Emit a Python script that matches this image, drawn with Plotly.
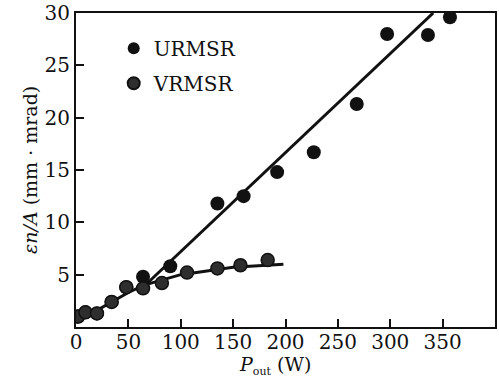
import plotly.graph_objects as go

# URMSR data
u_x = [2, 9, 20, 34, 48, 64, 90, 135, 160, 192, 227, 268, 297, 336, 357]
u_y = [1.0, 1.4, 1.3, 2.4, 3.8, 4.8, 5.8, 11.8, 12.5, 14.8, 16.7, 21.3, 28.0, 27.9, 29.6]
# VRMSR data
v_x = [2, 9, 20, 34, 48, 64, 82, 106, 135, 157, 183]
v_y = [1.0, 1.4, 1.3, 2.4, 3.8, 3.7, 4.2, 5.2, 5.6, 5.9, 6.4]
# fitted curves
u_fit_x = [64, 341]
u_fit_y = [3.8, 30.0]
v_fit_x = [0, 20, 50, 65, 100, 150, 198]
v_fit_y = [1.0, 1.6, 3.3, 4.0, 5.0, 5.7, 6.0]

x_ticks = [0, 50, 100, 150, 200, 250, 300, 350]
y_ticks = [5, 10, 15, 20, 25, 30]

FONT = "DejaVu Serif"
INK = "#111"

fig = go.Figure()
fig.add_trace(go.Scatter(x=v_fit_x, y=v_fit_y, mode="lines", line=dict(color=INK, width=3),
                         showlegend=False, hoverinfo="skip"))
fig.add_trace(go.Scatter(x=u_fit_x, y=u_fit_y, mode="lines", line=dict(color=INK, width=3),
                         showlegend=False, hoverinfo="skip"))
fig.add_trace(go.Scatter(x=u_x, y=u_y, mode="markers", name="URMSR", legendgroup="u",
                         marker=dict(symbol="circle", size=14, color=INK)))
fig.add_trace(go.Scatter(x=v_x, y=v_y, mode="markers", name="VRMSR", legendgroup="v",
                         marker=dict(symbol="circle", size=13, color="#2e2e2e",
                                     line=dict(color=INK, width=1.5))))

axis_common = dict(showline=True, linecolor=INK, linewidth=2, mirror=True,
                   ticks="inside", ticklen=8, tickwidth=2, tickcolor=INK,
                   showgrid=False, zeroline=False, automargin=False,
                   tickfont=dict(family=FONT, size=20, color=INK))

fig.update_layout(
    width=499, height=381,
    margin=dict(l=76, r=4, t=13, b=54),
    paper_bgcolor="white", plot_bgcolor="white",
    font=dict(family=FONT, color=INK),
    xaxis=dict(range=[0, 400], tickvals=x_ticks, ticktext=[str(t) for t in x_ticks],
               ticklabelstandoff=-4, **axis_common),
    yaxis=dict(range=[0, 30], tickvals=y_ticks, ticktext=[str(t) for t in y_ticks], **axis_common),
    legend=dict(x=0.09, y=0.95, xanchor="left", yanchor="top", bgcolor="rgba(0,0,0,0)",
                font=dict(family=FONT, size=20, color=INK), itemsizing="constant",
                tracegroupgap=6, itemwidth=30),
    annotations=[
        dict(text="<i>P</i><sub><span style='font-size:11px'>out</span></sub> (W)",
             xref="paper", yref="paper", x=0.475, y=-0.122,
             xanchor="center", yanchor="middle", showarrow=False,
             font=dict(family=FONT, size=19, color=INK)),
        dict(text="<i>εn/A</i> (mm · mrad)", xref="paper", yref="paper", x=-0.11, y=0.5,
             xanchor="center", yanchor="middle", textangle=-90, showarrow=False,
             font=dict(family=FONT, size=19, color=INK)),
    ],
)

fig.write_html("out.html", config={"displayModeBar": False},
               post_script="document.body.style.margin='0';")
